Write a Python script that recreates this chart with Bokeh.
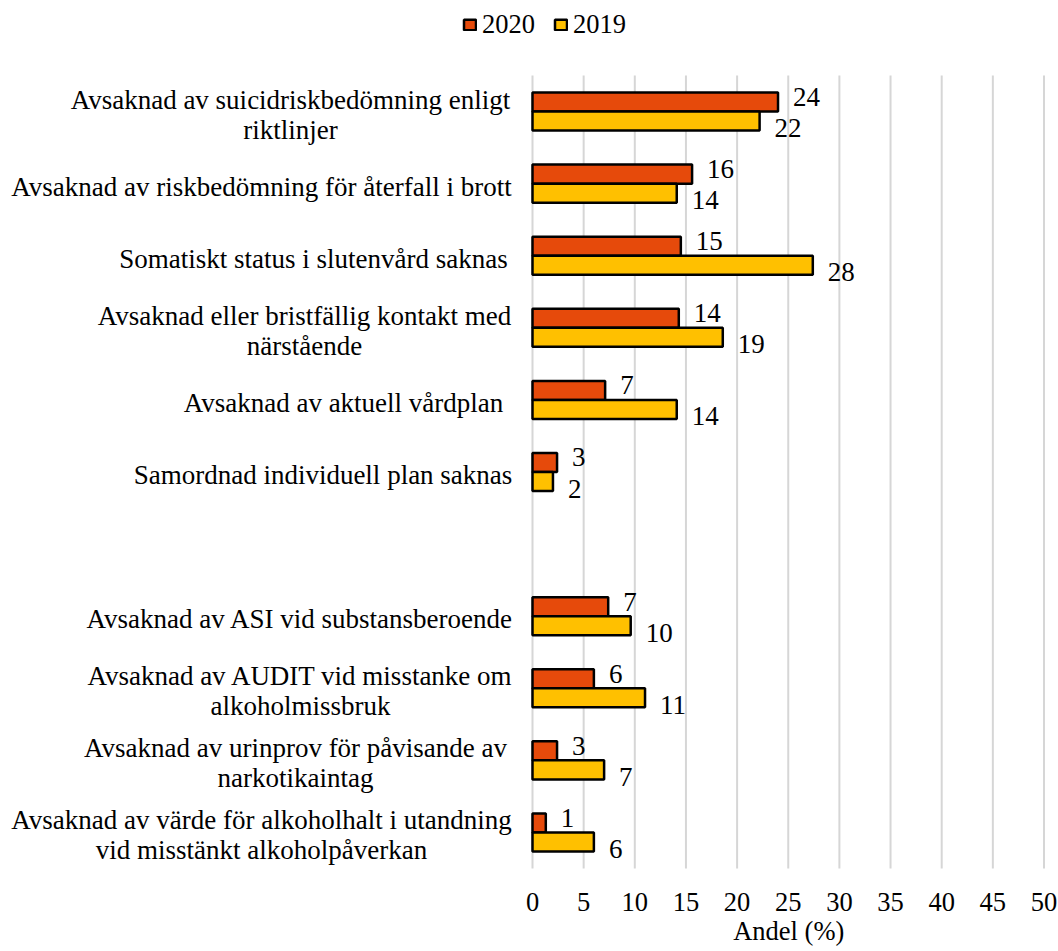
from bokeh.plotting import figure
from bokeh.models import ColumnDataSource, Range1d, Label, Legend, LegendItem
from bokeh.transform import dodge
from bokeh.core.properties import value
from bokeh.embed import file_html
from bokeh.resources import INLINE

# ---------------- data ----------------
categories = [
    "Avsaknad av suicidriskbedömning enligt\nriktlinjer",
    "Avsaknad av riskbedömning för återfall i brott",
    "Somatiskt status i slutenvård saknas",
    "Avsaknad eller bristfällig kontakt med\nnärstående",
    "Avsaknad av aktuell vårdplan",
    "Samordnad individuell plan saknas",
    "",
    "Avsaknad av ASI vid substansberoende",
    "Avsaknad av AUDIT vid misstanke om\nalkoholmissbruk",
    "Avsaknad av urinprov för påvisande av\nnarkotikaintag",
    "Avsaknad av värde för alkoholhalt i utandning\nvid misstänkt alkoholpåverkan",
]
values_2020 = [24.0, 15.6, 14.5, 14.3, 7.1, 2.4, None, 7.4, 6.0, 2.4, 1.3]
values_2019 = [22.2, 14.1, 27.4, 18.6, 14.1, 2.0, None, 9.6, 11.0, 7.0, 6.0]
labels_2020 = ["24", "16", "15", "14", "7", "3", "", "7", "6", "3", "1"]
labels_2019 = ["22", "14", "28", "19", "14", "2", "", "10", "11", "7", "6"]
series_names = ["2020", "2019"]
x_ticks = [0, 5, 10, 15, 20, 25, 30, 35, 40, 45, 50]
x_tick_labels = ["0", "5", "10", "15", "20", "25", "30", "35", "40", "45", "50"]
axis_title = "Andel (%)"

# ---------------- style / layout ----------------
FONT = "Liberation Serif"
C2020 = "#E64A0B"
C2019 = "#FFC000"
W, H = 1058, 951
X0_PX, X50_PX = 532.0, 1043.5        # where 0 and 50 sit on the canvas
TOP_PX, BOT_PX = 75.0, 868.0          # top / bottom of the category slots
N = len(categories)
SLOT_PX = (BOT_PX - TOP_PX) / N
PX_PER_UNIT = (X50_PX - X0_PX) / 50
BAR_H = 0.264
# horizontal centres (canvas px) of each category label block
label_cx = [290, 261, 313, 304, 343, 322.5, None, 299.5, 300, 295, 261]

idx = [i for i, c in enumerate(categories) if c != ""]
src = ColumnDataSource(dict(
    pos=[i + 0.5 for i in idx],
    v20=[values_2020[i] for i in idx],
    v19=[values_2019[i] for i in idx],
    l20=[labels_2020[i] for i in idx],
    l19=[labels_2019[i] for i in idx],
))

x_range = Range1d(-X0_PX / PX_PER_UNIT, 50 + (W - X50_PX) / PX_PER_UNIT)
y_range = Range1d(N + (H - BOT_PX) / SLOT_PX, -TOP_PX / SLOT_PX)

p = figure(width=W, height=H, x_range=x_range, y_range=y_range,
           output_backend="svg", toolbar_location=None,
           x_axis_location=None, y_axis_location=None,
           min_border_left=0, min_border_right=0, min_border_top=0, min_border_bottom=0)
p.outline_line_color = None
p.background_fill_color = "white"
p.border_fill_color = "white"
p.xgrid.visible = False
p.ygrid.visible = False

# vertical grid lines at the ticks, spanning the category area only
p.segment(x0=x_ticks, x1=x_ticks, y0=[0] * len(x_ticks), y1=[N] * len(x_ticks),
          line_color="#D6D6D6", line_width=2)

r20 = p.hbar(y=dodge("pos", -BAR_H / 2), left=0, right="v20", height=BAR_H, source=src,
             fill_color=C2020, line_color="black", line_width=2.5)
r19 = p.hbar(y=dodge("pos", BAR_H / 2), left=0, right="v19", height=BAR_H, source=src,
             fill_color=C2019, line_color="black", line_width=2.5)

p.text(x="v20", y=dodge("pos", -BAR_H / 2 - 5 / SLOT_PX), text="l20", source=src,
       x_offset=15, text_align="left", text_baseline="middle",
       text_font=value(FONT), text_font_size="27px", text_color="black")
p.text(x="v19", y=dodge("pos", BAR_H / 2 + 7 / SLOT_PX), text="l19", source=src,
       x_offset=15, text_align="left", text_baseline="middle",
       text_font=value(FONT), text_font_size="27px", text_color="black")

# x tick labels (value axis) below the category area
p.text(x=x_ticks, y=[N + 33 / SLOT_PX] * len(x_ticks), text=x_tick_labels,
       text_align="center", text_baseline="middle",
       text_font=value(FONT), text_font_size="26.5px", text_color="black")

# axis title
p.add_layout(Label(x=(X0_PX + X50_PX) / 2 + 0.5, x_units="screen", y=H - 930, y_units="screen",
                   text=axis_title, text_align="center", text_baseline="middle",
                   text_font=FONT, text_font_size="26.5px", text_color="black"))

# category labels (lines centred within each block)
LINE_H = 30 / SLOT_PX
for i, cat in enumerate(categories):
    if not cat:
        continue
    lines = cat.split("\n")
    n = len(lines)
    for k, line in enumerate(lines):
        ly = i + 0.5 + (k - (n - 1) / 2) * LINE_H + 3 / SLOT_PX
        p.add_layout(Label(x=label_cx[i], x_units="screen", y=ly, y_units="data",
                           text=line, text_align="center", text_baseline="middle",
                           text_font=FONT, text_font_size="27px", text_color="black"))

# legend
legend = Legend(items=[LegendItem(label=series_names[0], renderers=[r20]),
                       LegendItem(label=series_names[1], renderers=[r19])],
                location=(462, H - 40), orientation="horizontal",
                glyph_width=15, glyph_height=13, label_standoff=5, spacing=18,
                padding=0, margin=0, border_line_alpha=0, background_fill_alpha=0,
                label_text_font=FONT, label_text_font_size="26.5px", label_text_color="black")
p.add_layout(legend)

open("out.html", "w").write(file_html(p, INLINE))
